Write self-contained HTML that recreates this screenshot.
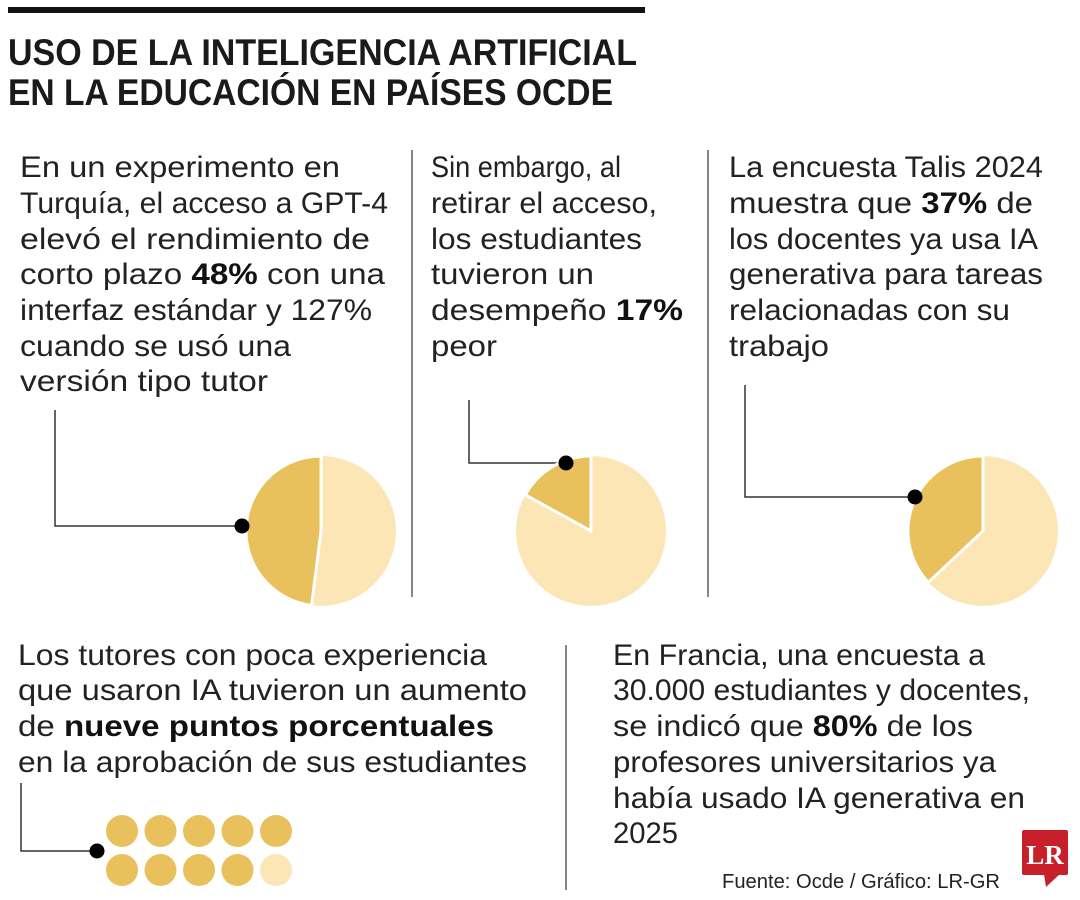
<!DOCTYPE html>
<html><head><meta charset="utf-8"><style>
html,body{margin:0;padding:0;background:#fff;width:1080px;height:900px;overflow:hidden}
svg{display:block}
.t{font-family:"Liberation Sans",sans-serif;font-size:30px;fill:#222}
.b{font-weight:bold;fill:#111}
.h{font-family:"Liberation Sans",sans-serif;font-size:37px;font-weight:bold;fill:#1a1a1a}
</style></head><body>
<svg id="s" width="1080" height="900" viewBox="0 0 1080 900">
<rect x="8" y="7" width="637" height="6" fill="#111"/>
<text class="h" x="8" y="65" textLength="629" lengthAdjust="spacingAndGlyphs">USO DE LA INTELIGENCIA ARTIFICIAL</text>
<text class="h" x="8" y="105" textLength="605" lengthAdjust="spacingAndGlyphs">EN LA EDUCACIÓN EN PAÍSES OCDE</text>
<g stroke="#444" stroke-width="1.3">
<line x1="412" y1="150" x2="412" y2="597"/><line x1="708" y1="150" x2="708" y2="597"/><line x1="566" y1="645" x2="566" y2="890"/>
</g>
<g fill="none" stroke="#333" stroke-width="1.5">
<polyline points="55,410 55,526 242,526"/><polyline points="469,400 469,463 566,463"/><polyline points="745,385 745,497 915,497"/><polyline points="21,783 21,851 97,851"/>
</g>
<g id="pies"></g>
<g id="dots"></g>
<g fill="#000">
<circle cx="242" cy="526" r="7.5"/><circle cx="566" cy="463" r="7.5"/><circle cx="915" cy="497" r="7.5"/><circle cx="97" cy="851" r="7.5"/>
</g>
<g>
<text class="t" x="20" y="177" textLength="320" lengthAdjust="spacingAndGlyphs">En un experimento en</text>
<text class="t" x="20" y="213" textLength="368" lengthAdjust="spacingAndGlyphs">Turquía, el acceso a GPT-4</text>
<text class="t" x="20" y="249" textLength="350" lengthAdjust="spacingAndGlyphs">elevó el rendimiento de</text>
<text class="t" x="20" y="284" textLength="365" lengthAdjust="spacingAndGlyphs">corto plazo <tspan class="b">48%</tspan> con una</text>
<text class="t" x="20" y="320" textLength="352" lengthAdjust="spacingAndGlyphs">interfaz estándar y 127%</text>
<text class="t" x="20" y="356" textLength="271" lengthAdjust="spacingAndGlyphs">cuando se usó una</text>
<text class="t" x="20" y="391" textLength="248" lengthAdjust="spacingAndGlyphs">versión tipo tutor</text>
</g>
<g>
<text class="t" x="431" y="177" textLength="190" lengthAdjust="spacingAndGlyphs">Sin embargo, al</text>
<text class="t" x="431" y="213" textLength="226" lengthAdjust="spacingAndGlyphs">retirar el acceso,</text>
<text class="t" x="431" y="249" textLength="211" lengthAdjust="spacingAndGlyphs">los estudiantes</text>
<text class="t" x="431" y="284" textLength="163" lengthAdjust="spacingAndGlyphs">tuvieron un</text>
<text class="t" x="431" y="320" textLength="252" lengthAdjust="spacingAndGlyphs">desempeño <tspan class="b">17%</tspan></text>
<text class="t" x="431" y="356" textLength="66" lengthAdjust="spacingAndGlyphs">peor</text>
</g>
<g>
<text class="t" x="729" y="177" textLength="314" lengthAdjust="spacingAndGlyphs">La encuesta Talis 2024</text>
<text class="t" x="729" y="213" textLength="304" lengthAdjust="spacingAndGlyphs">muestra que <tspan class="b">37%</tspan> de</text>
<text class="t" x="729" y="249" textLength="309" lengthAdjust="spacingAndGlyphs">los docentes ya usa IA</text>
<text class="t" x="729" y="284" textLength="314" lengthAdjust="spacingAndGlyphs">generativa para tareas</text>
<text class="t" x="729" y="320" textLength="281" lengthAdjust="spacingAndGlyphs">relacionadas con su</text>
<text class="t" x="729" y="356" textLength="100" lengthAdjust="spacingAndGlyphs">trabajo</text>
</g>
<g>
<text class="t" x="18" y="665" textLength="469" lengthAdjust="spacingAndGlyphs">Los tutores con poca experiencia</text>
<text class="t" x="18" y="700" textLength="509" lengthAdjust="spacingAndGlyphs">que usaron IA tuvieron un aumento</text>
<text class="t" x="18" y="736" textLength="476" lengthAdjust="spacingAndGlyphs">de <tspan class="b">nueve puntos porcentuales</tspan></text>
<text class="t" x="18" y="772" textLength="509" lengthAdjust="spacingAndGlyphs">en la aprobación de sus estudiantes</text>
</g>
<g>
<text class="t" x="613" y="665" textLength="372" lengthAdjust="spacingAndGlyphs">En Francia, una encuesta a</text>
<text class="t" x="613" y="700" textLength="417" lengthAdjust="spacingAndGlyphs">30.000 estudiantes y docentes,</text>
<text class="t" x="613" y="736" textLength="360" lengthAdjust="spacingAndGlyphs">se indicó que <tspan class="b">80%</tspan> de los</text>
<text class="t" x="613" y="772" textLength="383" lengthAdjust="spacingAndGlyphs">profesores universitarios ya</text>
<text class="t" x="613" y="808" textLength="412" lengthAdjust="spacingAndGlyphs">había usado IA generativa en</text>
<text class="t" x="613" y="843" textLength="65" lengthAdjust="spacingAndGlyphs">2025</text>
</g>
<text x="722" y="888" style="font-family:'Liberation Sans',sans-serif;font-size:20px;fill:#222" textLength="278" lengthAdjust="spacingAndGlyphs">Fuente: Ocde / Gráfico: LR-GR</text>
<g>
<rect x="1022" y="830" width="46" height="45" rx="2" fill="#c8202a"/>
<polygon points="1044,874 1060,874 1046,887" fill="#c8202a"/>
<text x="1045" y="864" text-anchor="middle" style="font-family:'Liberation Serif',serif;font-size:27px;font-weight:bold;fill:#fff">LR</text>
</g>
</svg>
<script>
const pieLabels = ["turquia-gpt4", "retiro-acceso", "talis-docentes"];
const pieValues = [48, 17, 37];
const pieCenters = [321, 591, 983];
const dotValues = [1,1,1,1,1,1,1,1,1,0];
const NS = "http://www.w3.org/2000/svg";
const DARK = "#e9c15c", LIGHT = "#fde6b5";
function ang(p){ return p/100*2*Math.PI; }
function pt(cx,cy,r,a){ return [cx - r*Math.sin(a), cy - r*Math.cos(a)]; }
const pies = document.getElementById('pies');
pieValues.forEach(function(v,i){
  const cx = pieCenters[i], cy = 531, r = 75;
  const g = document.createElementNS(NS,'g');
  
  
  const c = document.createElementNS(NS,'circle');
  c.setAttribute('cx',cx); c.setAttribute('cy',cy); c.setAttribute('r',r); c.setAttribute('fill',LIGHT);
  
  
  g.appendChild(c);
  const a = ang(v), e = pt(cx,cy,r,a);
  const p = document.createElementNS(NS,'path');
  p.setAttribute('d','M'+cx+','+cy+' L'+cx+','+(cy-r)+' A'+r+','+r+' 0 '+(v>50?1:0)+' 0 '+e[0]+','+e[1]+' Z');
  p.setAttribute('fill',DARK); p.setAttribute('stroke','#fff'); p.setAttribute('stroke-width','3');
  
  
  g.appendChild(p);
  pies.appendChild(g);
});
const dots = document.getElementById('dots');
dotValues.forEach(function(v,i){
  const c = document.createElementNS(NS,'circle');
  c.setAttribute('cx', 122 + (i%5)*38.5);
  c.setAttribute('cy', 831 + Math.floor(i/5)*39);
  c.setAttribute('r', 16);
  c.setAttribute('fill', v ? DARK : LIGHT);
  
  
  dots.appendChild(c);
});
</script>
</body></html>
